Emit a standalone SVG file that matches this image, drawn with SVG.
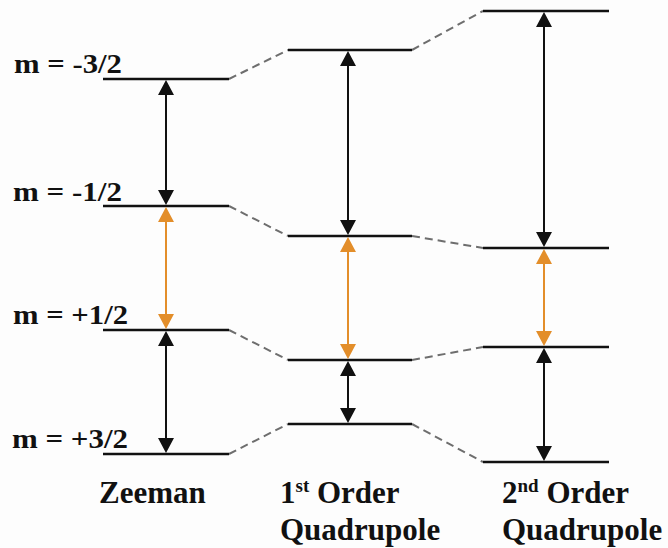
<svg xmlns="http://www.w3.org/2000/svg" width="668" height="548" viewBox="0 0 668 548">
<style>
.lvl{stroke:#111;stroke-width:2.5;fill:none}
.dash{stroke:#6e6e6e;stroke-width:2;stroke-dasharray:8 5;fill:none}
.ab{stroke:#111;stroke-width:2;fill:none}
.ao{stroke:#E38E2A;stroke-width:2;fill:none}
.hb{fill:#111}
.ho{fill:#E38E2A}
</style>
<rect width="668" height="548" fill="#fdfdfd"/>
<g id="connectors">
<path class="dash" d="M229,79 L288,50 M229,206 L288,236 M229,330 L288,360 M229,454 L288,424"/>
<path class="dash" d="M412,50 L483,11 M412,236 L483,248 M412,360 L483,347 M412,424 L483,462"/>
</g>
<g id="zeeman">
<path class="lvl" d="M103,79 H229 M103,206 H229 M103,330 H229 M103,454 H229"/>
</g>
<g id="first-order">
<path class="lvl" d="M288,50 H412 M288,236 H412 M288,360 H412 M288,424 H412"/>
</g>
<g id="second-order">
<path class="lvl" d="M483,11 H609 M483,248 H609 M483,347 H609 M483,462 H609"/>
</g>
<g id="arrows">
<line class="ab" x1="166" y1="92" x2="166" y2="193"/>
<polygon class="hb" points="166,80 158,95 174,95"/>
<polygon class="hb" points="166,205 158,190 174,190"/>
<line class="ao" x1="166" y1="219" x2="166" y2="317"/>
<polygon class="ho" points="166,207 158,222 174,222"/>
<polygon class="ho" points="166,329 158,314 174,314"/>
<line class="ab" x1="166" y1="343" x2="166" y2="441"/>
<polygon class="hb" points="166,331 158,346 174,346"/>
<polygon class="hb" points="166,453 158,438 174,438"/>

<line class="ab" x1="348" y1="63" x2="348" y2="223"/>
<polygon class="hb" points="348,51 340,66 356,66"/>
<polygon class="hb" points="348,235 340,220 356,220"/>
<line class="ao" x1="348" y1="249" x2="348" y2="347"/>
<polygon class="ho" points="348,237 340,252 356,252"/>
<polygon class="ho" points="348,359 340,344 356,344"/>
<line class="ab" x1="348" y1="373" x2="348" y2="411"/>
<polygon class="hb" points="348,361 340,376 356,376"/>
<polygon class="hb" points="348,423 340,408 356,408"/>

<line class="ab" x1="544" y1="24" x2="544" y2="235"/>
<polygon class="hb" points="544,12 536,27 552,27"/>
<polygon class="hb" points="544,247 536,232 552,232"/>
<line class="ao" x1="544" y1="261" x2="544" y2="334"/>
<polygon class="ho" points="544,249 536,264 552,264"/>
<polygon class="ho" points="544,346 536,331 552,331"/>
<line class="ab" x1="544" y1="360" x2="544" y2="449"/>
<polygon class="hb" points="544,348 536,363 552,363"/>
<polygon class="hb" points="544,461 536,446 552,446"/>
</g>
<g id="labels" font-family="Liberation Serif, Times New Roman, serif" font-weight="bold" fill="#111">
<text x="14" y="73" font-size="28" textLength="108" lengthAdjust="spacingAndGlyphs">m = -3/2</text>
<text x="13" y="201" font-size="28" textLength="109" lengthAdjust="spacingAndGlyphs">m = -1/2</text>
<text x="13" y="324" font-size="28" textLength="115" lengthAdjust="spacingAndGlyphs">m = +1/2</text>
<text x="12" y="448" font-size="28" textLength="116" lengthAdjust="spacingAndGlyphs">m = +3/2</text>
<text x="99" y="503" font-size="31">Zeeman</text>
<text x="280" y="503" font-size="31">1<tspan font-size="19" dy="-11">st</tspan><tspan dy="11"> Order</tspan></text>
<text x="280" y="540" font-size="31">Quadrupole</text>
<text x="502" y="503" font-size="31">2<tspan font-size="19" dy="-11">nd</tspan><tspan dy="11"> Order</tspan></text>
<text x="502" y="540" font-size="31">Quadrupole</text>
</g>
</svg>
